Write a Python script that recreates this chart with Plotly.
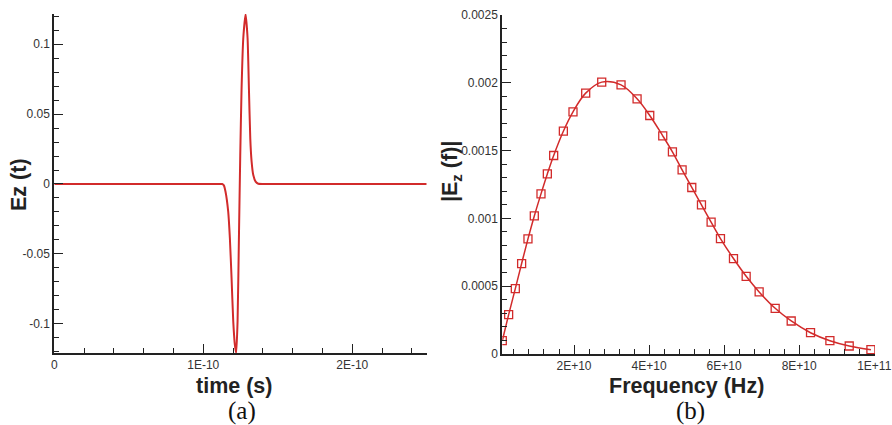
import plotly.graph_objects as go

# (a) time-domain pulse
time_s = [0, 0.5e-10, 1.0e-10, 1.10e-10, 1.127e-10, 1.1382e-10, 1.1495e-10, 1.1675e-10, 1.1787e-10,
          1.1899e-10, 1.2012e-10, 1.2123e-10, 1.2213e-10, 1.2303e-10, 1.2393e-10, 1.2483e-10,
          1.2572e-10, 1.2685e-10, 1.2842e-10, 1.2976e-10, 1.3066e-10, 1.3156e-10, 1.3246e-10,
          1.3358e-10, 1.3515e-10, 1.3695e-10, 1.40e-10, 1.6e-10, 2.0e-10, 2.5e-10]
ez_t = [0, 0, 0, 0, 0, -0.001, -0.0055, -0.0198, -0.0388,
        -0.067, -0.098, -0.115, -0.1207, -0.098, -0.039, 0.0207,
        0.068, 0.104, 0.1214, 0.104, 0.068, 0.0326, 0.016,
        0.0064, 0.0017, 0.0002, 0, 0, 0, 0]

# (b) spectrum magnitude
freq_hz = [8.9e8, 2.58e9, 4.36e9, 6.04e9, 7.73e9, 9.42e9, 1.12e10, 1.289e10, 1.458e10,
           1.716e10, 1.973e10, 2.311e10, 2.738e10, 3.253e10, 3.68e10, 4.018e10, 4.364e10,
           4.622e10, 4.88e10, 5.138e10, 5.396e10, 5.653e10, 5.902e10, 6.249e10, 6.587e10,
           6.933e10, 7.36e10, 7.787e10, 8.302e10, 8.818e10, 9.333e10, 9.911e10]
ez_f = [9.8e-5, 2.90e-4, 4.82e-4, 6.67e-4, 8.49e-4, 1.018e-3, 1.181e-3, 1.328e-3, 1.464e-3,
        1.643e-3, 1.786e-3, 1.924e-3, 2.005e-3, 1.985e-3, 1.882e-3, 1.759e-3, 1.609e-3,
        1.491e-3, 1.358e-3, 1.228e-3, 1.100e-3, 0.972e-3, 0.851e-3, 0.704e-3, 0.573e-3,
        0.458e-3, 0.337e-3, 0.2435e-3, 0.157e-3, 0.098e-3, 0.059e-3, 0.032e-3]

red = '#d22b2b'
W, H = 892, 425

fig = go.Figure()
fig.add_trace(go.Scatter(x=time_s, y=ez_t, mode='lines', line=dict(color=red, width=2, shape='spline', smoothing=0.5),
                         xaxis='x', yaxis='y', showlegend=False))
fig.add_trace(go.Scatter(x=freq_hz, y=ez_f, mode='lines+markers', line=dict(color=red, width=1.5, shape='spline'),
                         marker=dict(symbol='square-open', size=8, color=red, line=dict(width=1.3)),
                         xaxis='x2', yaxis='y2', showlegend=False))

tickfont = dict(family='Liberation Sans, Arial', size=12, color='#333')
titlefont = dict(family='Liberation Sans, Arial', size=21.5, color='#222', weight='bold')
axis_common = dict(showline=True, linecolor='#222', linewidth=2, ticks='inside', ticklen=9, tickwidth=1.3,
                   tickcolor='#222', showgrid=False, zeroline=False, mirror=False, tickfont=tickfont,
                   automargin=False)
minor_common = dict(ticks='inside', ticklen=5, tickwidth=1.2, tickcolor='#222', tick0=0)

fig.update_layout(
    width=W, height=H, margin=dict(l=0, r=0, t=0, b=0),
    paper_bgcolor='white', plot_bgcolor='white',
    xaxis=dict(axis_common, domain=[54.3 / W, 426.7 / W], anchor='y', range=[0, 2.5e-10],
               tickvals=[0, 1e-10, 2e-10], ticktext=['0', '1E-10', '2E-10'],
               minor=dict(minor_common, dtick=2e-11)),
    yaxis=dict(axis_common, domain=[(H - 353) / H, (H - 14) / H], anchor='x', range=[-0.1208, 0.1215],
               tickvals=[-0.1, -0.05, 0, 0.05, 0.1], ticktext=['-0.1', '-0.05', '0', '0.05', '0.1'],
               minor=dict(minor_common, dtick=0.01)),
    xaxis2=dict(axis_common, domain=[502.3 / W, 875 / W], anchor='y2', range=[8.9e8, 1.002e11],
                tickvals=[2e10, 4e10, 6e10, 8e10, 1e11], ticktext=['2E+10', '4E+10', '6E+10', '8E+10', '1E+11'],
                minor=dict(minor_common, dtick=4e9)),
    yaxis2=dict(axis_common, domain=[(H - 354) / H, (H - 15) / H], anchor='x2', range=[0, 0.0025],
                tickvals=[0, 0.0005, 0.001, 0.0015, 0.002, 0.0025],
                ticktext=['0', '0.0005', '0.001', '0.0015', '0.002', '0.0025'],
                minor=dict(minor_common, dtick=0.0001)),
)

# axis titles placed as annotations (pixel positions from the reference)
titles = [('Ez (t)', 19, 185, -90), ('time (s)', 234, 386, 0),
          ('|E<sub>z</sub> (f)|', 451, 171, -90), ('Frequency (Hz)', 686, 386, 0)]
for text, xc, yc, ang in titles:
    fig.add_annotation(text=text, x=xc / W, y=(H - yc) / H, xref='paper', yref='paper', xanchor='center',
                       yanchor='middle', textangle=ang, showarrow=False, font=titlefont)

for label, xc in [('(a)', 241.7), ('(b)', 690)]:
    fig.add_annotation(text=label, x=xc / W, y=(H - 411) / H, xref='paper', yref='paper', xanchor='center',
                       yanchor='middle', showarrow=False,
                       font=dict(family='Liberation Serif, Times New Roman', size=25, color='#111'))

fig.write_html("out.html", config={'displayModeBar': False},
               post_script="document.body.style.margin='0';")
